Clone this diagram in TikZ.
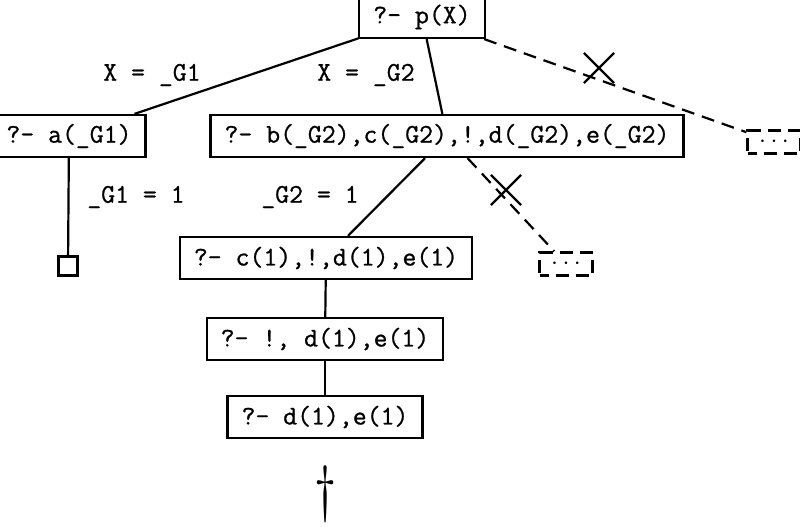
\documentclass[tikz,border=0pt]{standalone}
\usepackage{graphicx}
\usepackage{fontspec}
\newfontfamily\goalfam{Latin Modern Mono}[FakeBold=0.9]
\usetikzlibrary{shapes.misc}
\newcommand{\goalfont}{\fontsize{27}{32}\selectfont\goalfam}
\newcommand{\ghostdots}{$\cdot$\hspace{4.5pt}$\cdot$\hspace{4.5pt}$\cdot$}
\begin{document}
\begin{tikzpicture}[x=1pt,y=-1pt,
  goal/.style={draw, line width=2.2pt, font=\goalfont, minimum height=42pt, inner xsep=14pt, inner ysep=0pt},
  ghost/.style={draw, line width=2.2pt, dash pattern=on 13pt off 7pt, dash phase=4pt, minimum width=53pt, minimum height=23pt, inner sep=0pt, font=\fontsize{27}{30}\selectfont},
  edge/.style={line width=2.2pt},
  cutedge/.style={line width=2.2pt, dash pattern=on 13pt off 8pt},
  lab/.style={font=\goalfont, inner sep=0pt},
  crossmark/.style={draw, cross out, line width=2.2pt, minimum size=28pt, inner sep=0pt},
  okbox/.style={draw, line width=2.2pt, minimum size=19pt, inner sep=0pt}]
\useasboundingbox (0,0) rectangle (800,530);
\node[goal] (p) at (422,17) {?- p(X)};
\node[goal] (a) at (69,136) {?- a(\_G1)};
\node[goal] (b) at (447,136) {?- b(\_G2),c(\_G2),!,d(\_G2),e(\_G2)};
\node[ghost] (g1) at (774,142) {\ghostdots};
\node[goal] (c) at (326,258) {?- c(1),!,d(1),e(1)};
\node[ghost] (g2) at (566,264) {\ghostdots};
\node[goal] (cut) at (325,339) {?- !, d(1),e(1)};
\node[goal] (d) at (325,417) {?- d(1),e(1)};
\node[okbox] (ok) at (68,266) {};
\node[font=\fontsize{27}{32}\selectfont] (dag) at (326,494) {\scalebox{2}[2.5]{$\dagger$}};
\draw[edge] (p) -- (a);
\draw[edge] (p) -- (b);
\draw[cutedge] (p) -- (g1);
\draw[edge] (a) -- (ok);
\draw[edge] (b) -- (c);
\draw[cutedge] (b) -- (g2);
\draw[edge] (c) -- (cut);
\draw[edge] (cut) -- (d);
\node[crossmark] (x1) at (599,68) {};
\node[crossmark] (x2) at (506,190) {};
\node[lab] (l1) at (152,75) {X = \_G1};
\node[lab] (l2) at (366,75) {X = \_G2};
\node[lab] (l3) at (136,197) {\_G1 = 1};
\node[lab] (l4) at (310,197) {\_G2 = 1};
\end{tikzpicture}
\end{document}
